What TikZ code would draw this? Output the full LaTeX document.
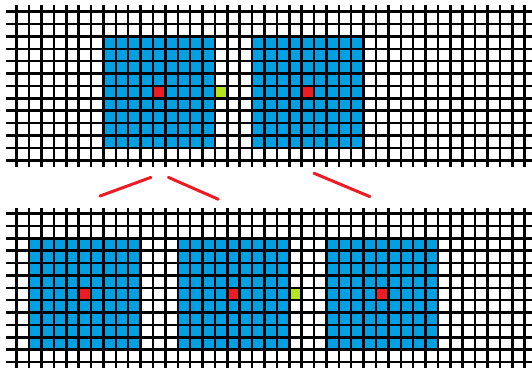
\documentclass[tikz,border=0pt]{standalone}
\usepackage{xcolor}
\usepackage{tikz}
\definecolor{cellblue}{RGB}{0,160,226}
\definecolor{cellred}{RGB}{237,28,36}
\definecolor{cellgreen}{RGB}{181,230,29}
\tikzset{
  gridline/.style={line width=2.5pt, color=black},
  block/.style={fill=cellblue},
  centre/.style={fill=cellred},
  probe/.style={fill=cellgreen},
  zoomline/.style={line width=3pt, color=cellred, line cap=round}
}

\begin{document}
\begin{tikzpicture}[x=12.39pt, y=-12.38pt]
  \clip (-1.348,-0.945) rectangle (41.59,28.78);
  % Top panel: two blocks, green probe cell between them
  \foreach \c in {7,19}
    \fill[block] (\c,2) rectangle ++(9,9);
  \foreach \c in {11,23}
    \fill[centre] (\c,6) rectangle ++(1,1);
  \fill[probe] (16,6) rectangle ++(1,1);
  \foreach \x in {0,...,41}
    \draw[gridline] (\x,-0.54) -- (\x,12.54);
  \foreach \y in {0,...,12}
    \draw[gridline] (-0.86,\y) -- (42,\y);
  % Bottom panel: three blocks
  \begin{scope}[yshift=-16.3*12.38pt]
    \foreach \c in {1,13,25}
      \fill[block] (\c,2) rectangle ++(9,9);
    \foreach \c in {5,17,29}
      \fill[centre] (\c,6) rectangle ++(1,1);
    \fill[probe] (22,6) rectangle ++(1,1);
    \foreach \x in {0,...,41}
      \draw[gridline] (\x,-0.42) -- (\x,13);
    \foreach \y in {0,...,12}
      \draw[gridline] (-0.86,\y) -- (42,\y);
  \end{scope}
  % Zoom marks
  \coordinate (za) at (6.72,14.89);
  \coordinate (zb) at (10.84,13.38);
  \coordinate (zc) at (12.24,13.38);
  \coordinate (zd) at (16.27,15.15);
  \coordinate (ze) at (24.0,13.05);
  \coordinate (zf) at (28.51,14.94);
  \draw[zoomline] (za) -- (zb);
  \draw[zoomline] (zc) -- (zd);
  \draw[zoomline] (ze) -- (zf);
\end{tikzpicture}
\end{document}
